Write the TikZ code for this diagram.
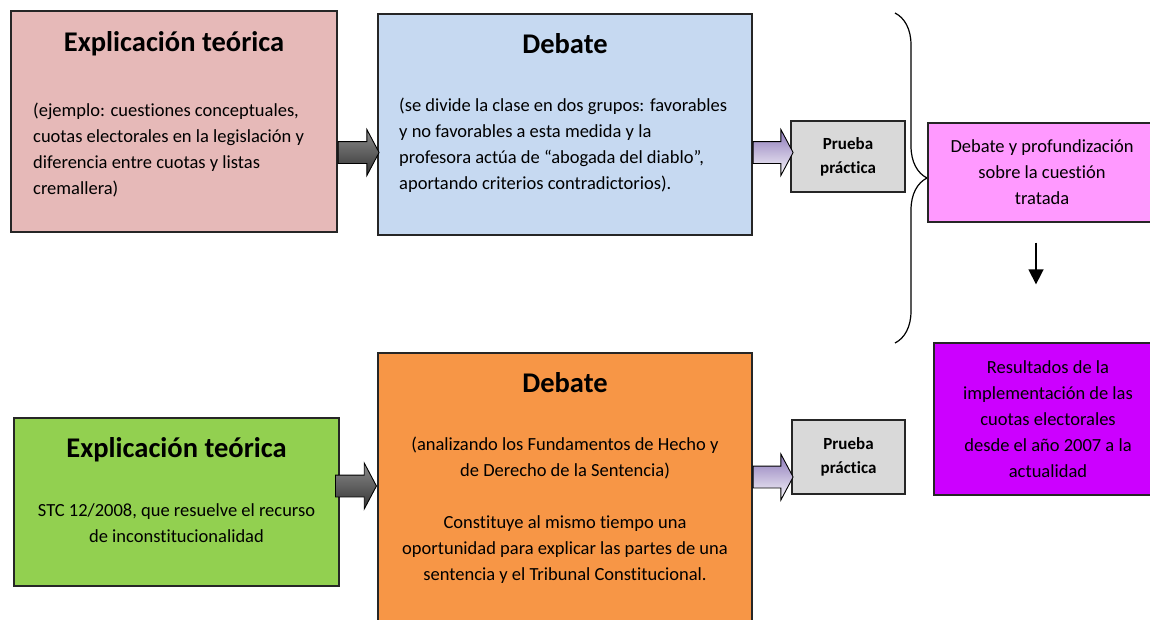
\documentclass[tikz,border=0pt]{standalone}
\usepackage{fontspec}
\setmainfont{Carlito}[Ligatures=NoCommon]
\usetikzlibrary{positioning, arrows.meta, decorations.pathreplacing, shapes.arrows}
\definecolor{rosaviejo}{RGB}{230, 185, 184}
\definecolor{azulclaro}{RGB}{198, 217, 241}
\definecolor{verdeclaro}{RGB}{146, 208, 80}
\definecolor{naranja}{RGB}{247, 150, 70}
\definecolor{grisclaro}{RGB}{217, 217, 217}
\definecolor{rosa}{RGB}{255, 153, 255}
\definecolor{morado}{RGB}{204, 0, 255}
\definecolor{lila}{RGB}{140, 120, 185}

\tikzset{
    caja/.style={draw=black!85, line width=1.3pt, inner sep=0pt},
    titulo/.style={font=\fontsize{28.5}{32}\selectfont\bfseries, inner sep=0pt},
    cuerpo/.style={font=\fontsize{18.5}{26}\selectfont, inner sep=0pt},
    prueba/.style={caja, fill=grisclaro, align=center,
                   font=\fontsize{17}{24}\selectfont\bfseries},
    bloque/.style={single arrow, draw=black, line width=0.9pt, inner sep=10.5pt,
                   single arrow head extend=12pt, single arrow tip angle=124},
    flechagris/.style={bloque, top color=black!45, bottom color=black!80},
    flechalila/.style={bloque, top color=lila, bottom color=lila!5}
}

\begin{document}
\begin{tikzpicture}[x=1pt, y=-1pt]
        \useasboundingbox (0,0) rectangle (1150,619);

        % primera fila
        \node[caja, fill=rosaviejo, minimum width=326pt, minimum height=221pt] (expl1) at (174,121.5) {};
        \node[titulo, anchor=base] (tit1) at (174,51) {Explicación teórica};
        \node[cuerpo, align=left, anchor=west] (txt1) at (33,150) {(ejemplo: cuestiones conceptuales,\\
            cuotas electorales en la legislación y\\
            diferencia entre cuotas y listas\\
            cremallera)};

        \node[caja, fill=azulclaro, minimum width=374pt, minimum height=221pt] (deb1) at (565,124.5) {};
        \node[titulo, anchor=base] (tit2) at (565,53) {Debate};
        \node[cuerpo, align=left, anchor=west] (txt2) at (399,145) {(se divide la clase en dos grupos: favorables\\
            y no favorables a esta medida y la\\
            profesora actúa de “abogada del diablo”,\\
            aportando criterios contradictorios).};

        \node[prueba, minimum width=114pt, minimum height=71pt] (pru1) at (848,156.5) {Prueba\\práctica};

        \node[flechagris, minimum height=41pt, anchor=tail] (f1) at (expl1.east |- 0,152.5) {};
        \node[flechalila, minimum height=40pt, anchor=tail] (f2) at (deb1.east |- 0,152.5) {};

        % llave y resultados
        \draw[line width=1.2pt, decorate, decoration={brace, amplitude=32pt}] (895,13) -- (895,343);

        \node[caja, fill=rosa, cuerpo, align=center, minimum width=228pt, minimum height=99pt] (prof) at (1042,172.5)
            {Debate y profundización\\sobre la cuestión\\tratada};
        \node[caja, fill=morado, cuerpo, align=center, minimum width=228pt, minimum height=152pt] (res) at (1048,419)
            {Resultados de la\\implementación de las\\cuotas electorales\\desde el año 2007 a la\\actualidad};

        \coordinate (eje) at (1036,0);
        \draw[line width=1.5pt, -{Triangle[width=15pt, length=15pt]}, shorten <=20pt, shorten >=58pt]
            (prof.south -| eje) -- (res.north -| eje);

        % segunda fila
        \node[caja, fill=verdeclaro, minimum width=325pt, minimum height=168pt] (expl2) at (176.5,502) {};
        \node[titulo, anchor=base] (tit3) at (176.5,457) {Explicación teórica};
        \node[cuerpo, align=center] (txt3) at (176.5,523.5) {STC 12/2008, que resuelve el recurso\\
            de inconstitucionalidad};

        \node[caja, fill=naranja, minimum width=374pt, minimum height=290pt] (deb2) at (565,498) {};
        \node[titulo, anchor=base] (tit4) at (565,392) {Debate};
        \node[cuerpo, align=center] (txt4) at (565,510) {(analizando los Fundamentos de Hecho y\\
            de Derecho de la Sentencia)\\[26pt]
            Constituye al mismo tiempo una\\
            oportunidad para explicar las partes de una\\
            sentencia y el Tribunal Constitucional.};

        \node[prueba, minimum width=113pt, minimum height=74pt] (pru2) at (848.5,457) {Prueba\\práctica};

        \node[flechagris, minimum height=41pt, anchor=tail] (f3) at (335,486) {};
        \node[flechalila, minimum height=40pt, anchor=tail] (f4) at (deb2.east |- 0,477) {};
    \end{tikzpicture}
\end{document}
